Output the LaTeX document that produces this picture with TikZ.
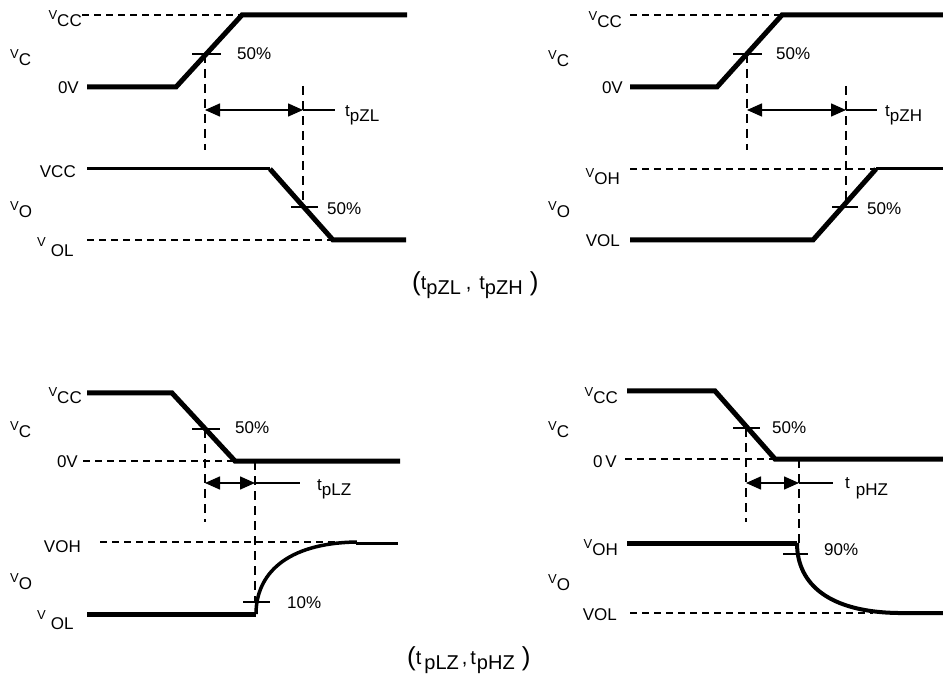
\documentclass[tikz,border=0pt]{standalone}
\usepackage{fontspec}
\setmainfont{Liberation Sans}
\usetikzlibrary{arrows.meta}
\newcommand{\Vs}[1]{\raisebox{7pt}{\fontsize{13}{13}\selectfont V}#1}
\newcommand{\Vsp}[1]{\raisebox{10pt}{\fontsize{13}{13}\selectfont V}\hspace{5pt}#1}
\newcommand{\Ts}[1]{t\raisebox{-5pt}{#1}}
\newcommand{\Cp}[1]{\raisebox{-1pt}{\fontsize{26}{26}\selectfont #1}}
\begin{document}
\begin{tikzpicture}[x=1pt,y=-1pt,
  lab/.style={inner sep=0pt, font=\fontsize{17}{20}\selectfont},
  caplab/.style={inner sep=0pt, font=\fontsize{20}{24}\selectfont},
  wthick/.style={line width=5pt},
  wmed/.style={line width=3pt},
  hdash/.style={line width=1.3pt, dash pattern=on 7pt off 5pt},
  vdash/.style={line width=2pt, dash pattern=on 9pt off 6pt},
  tickln/.style={line width=1.3pt},
  dimln/.style={line width=1.5pt, {Triangle[length=15pt,width=13pt]}-{Triangle[length=15pt,width=13pt]}},
  leader/.style={line width=1.5pt}]
\useasboundingbox (0,0) rectangle (943,676);

% ---------------- Panel 1 (top left) ----------------
\draw[hdash] (82,15) -- (242,15);
\draw[wthick] (87,87) -- (176,87) -- (242,15) -- (407,15);
\draw[tickln] (192,54) -- (221,54);
\draw[vdash] (205,54) -- (205,150);
\draw[vdash] (303,86) -- (303,207);
\coordinate (a1) at (205,110); \coordinate (b1) at (303,110); \coordinate (c1) at (335,110);
\draw[dimln] (a1) -- (b1);
\draw[leader] (b1) -- (c1);
\draw[wmed] (87,169) -- (270,169);
\draw[wthick] (270,169) -- (333,240) -- (406,240);
\draw[hdash] (87,240) -- (333,240);
\draw[tickln] (291,207) -- (318,207);

\node[lab, anchor=base east] (p1vcc) at (82,27) {\Vs{CC}};
\node[lab, anchor=base west] (p1vc) at (10,66) {\Vs{C}};
\node[lab, anchor=base east] (p1ov) at (79,94) {0V};
\node[lab, anchor=base west] (p1f1) at (237,60) {50\%};
\node[lab, anchor=base west] (p1t) at (345,117) {\Ts{pZL}};
\node[lab, anchor=base east] (p1vcc2) at (76,178) {VCC};
\node[lab, anchor=base west] (p1vo) at (10,218) {\Vs{O}};
\node[lab, anchor=base west] (p1f2) at (327,215) {50\%};
\node[lab, anchor=base west] (p1vol) at (37,257) {\Vsp{OL}};

% ---------------- Panel 2 (top right) ----------------
\draw[hdash] (630,15) -- (782,15);
\draw[wthick] (630,87) -- (717,87) -- (782,15) -- (943,15);
\draw[tickln] (733,54) -- (762,54);
\draw[vdash] (747,54) -- (747,150);
\draw[vdash] (846,86) -- (846,207);
\coordinate (a2) at (747,110); \coordinate (b2) at (846,110); \coordinate (c2) at (877,110);
\draw[dimln] (a2) -- (b2);
\draw[leader] (b2) -- (c2);
\draw[hdash] (630,169) -- (876,169);
\draw[wthick] (630,240) -- (813,240) -- (876,169);
\draw[wmed] (876,169) -- (943,169);
\draw[tickln] (832,207) -- (858,207);

\node[lab, anchor=base east] (p2vcc) at (622,28) {\Vs{CC}};
\node[lab, anchor=base west] (p2vc) at (548,67) {\Vs{C}};
\node[lab, anchor=base east] (p2ov) at (623,94) {0V};
\node[lab, anchor=base west] (p2f1) at (776,60) {50\%};
\node[lab, anchor=base west] (p2t) at (885,117) {\Ts{pZH}};
\node[lab, anchor=base east] (p2voh) at (620,185) {\Vs{OH}};
\node[lab, anchor=base west] (p2vo) at (548,218) {\Vs{O}};
\node[lab, anchor=base west] (p2f2) at (867,215) {50\%};
\node[lab, anchor=base east] (p2vol) at (620,247) {VOL};

\node[caplab, anchor=base west] (cap1) at (412,290) {\Cp{(}\Ts{pZL}\hspace{5pt},\hspace{8pt}\Ts{pZH}\hspace{7pt}\Cp{)}};

% ---------------- Panel 3 (bottom left) ----------------
\draw[hdash] (83,461) -- (235,461);
\draw[wthick] (87,393) -- (172,393) -- (235,461) -- (400,461);
\draw[tickln] (192,429) -- (220,429);
\draw[vdash] (205,429) -- (205,522);
\draw[vdash] (255,461) -- (255,602);
\coordinate (a3) at (205,483); \coordinate (b3) at (255,483); \coordinate (c3) at (300,483);
\draw[dimln] (a3) -- (b3);
\draw[leader] (b3) -- (c3);
\draw[hdash] (100,542) -- (357,542);
\draw[wthick] (87,614) -- (256,614);
\draw[line width=3.5pt] (256,614) .. controls (256,575) and (285,543) .. (357,542);
\draw[wmed] (356,543) -- (398,543);
\draw[tickln] (243,602) -- (270,602);

\node[lab, anchor=base east] (p3vcc) at (82,403) {\Vs{CC}};
\node[lab, anchor=base west] (p3vc) at (10,438) {\Vs{C}};
\node[lab, anchor=base east] (p3ov) at (78,467) {0V};
\node[lab, anchor=base west] (p3f1) at (235,433) {50\%};
\node[lab, anchor=base west] (p3t) at (317,490) {\Ts{pLZ}};
\node[lab, anchor=base east] (p3voh) at (81,552) {VOH};
\node[lab, anchor=base west] (p3vo) at (10,589) {\Vs{O}};
\node[lab, anchor=base west] (p3f2) at (287,608) {10\%};
\node[lab, anchor=base west] (p3vol) at (37,629) {\Vsp{OL}};

% ---------------- Panel 4 (bottom right) ----------------
\draw[hdash] (625,459) -- (775,459);
\draw[wthick] (627,391) -- (715,391) -- (775,459) -- (943,459);
\draw[tickln] (733,428) -- (760,428);
\draw[vdash] (746,428) -- (746,522);
\draw[vdash] (799,459) -- (799,547);
\coordinate (a4) at (746,483); \coordinate (b4) at (799,483); \coordinate (c4) at (833,483);
\draw[dimln] (a4) -- (b4);
\draw[leader] (b4) -- (c4);
\draw[hdash] (630,613) -- (873,613);
\draw[wthick] (627,543) -- (797,543);
\draw[line width=4pt] (797,543) .. controls (797,585) and (830,612) .. (898,613) -- (943,613);
\draw[tickln] (783,554) -- (808,554);

\node[lab, anchor=base east] (p4vcc) at (618,403) {\Vs{CC}};
\node[lab, anchor=base west] (p4vc) at (548,438) {\Vs{C}};
\node[lab, anchor=base east] (p4ov) at (617,467) {0\,V};
\node[lab, anchor=base west] (p4f1) at (772,433) {50\%};
\node[lab, anchor=base west] (p4t) at (845,488) {t\hspace{6pt}\raisebox{-7pt}{pHZ}};
\node[lab, anchor=base east] (p4voh) at (618,555) {\Vs{OH}};
\node[lab, anchor=base west] (p4vo) at (548,590) {\Vs{O}};
\node[lab, anchor=base west] (p4f2) at (824,555) {90\%};
\node[lab, anchor=base east] (p4vol) at (617,620) {VOL};

\node[caplab, anchor=base west] (cap2) at (407,664) {\Cp{(}t\hspace{3pt}\raisebox{-5pt}{pLZ}\hspace{3pt},\hspace{3pt}t\hspace{1pt}\raisebox{-5pt}{pHZ}\hspace{7pt}\Cp{)}};
\end{tikzpicture}
\end{document}
